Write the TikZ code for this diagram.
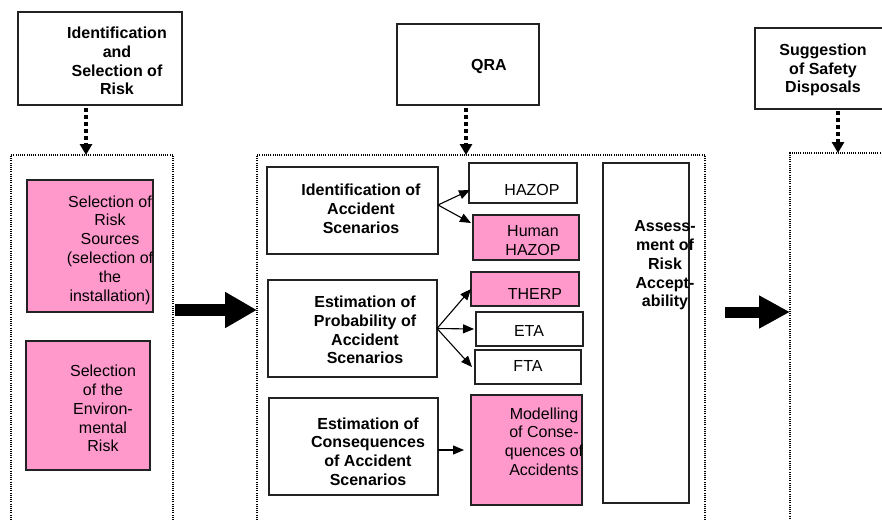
\documentclass[tikz,border=0pt]{standalone}
\usepackage{fontspec}
\setmainfont{Liberation Sans}
\usetikzlibrary{arrows.meta,calc}
\definecolor{boxpink}{HTML}{FF99CC}
\definecolor{boxline}{HTML}{222222}

\begin{document}
\begin{tikzpicture}[x=1pt, y=-1pt, line join=miter,
  box/.style={draw=boxline, line width=1.2pt, inner sep=0pt, outer sep=0pt},
  pinkbox/.style={box, fill=boxpink},
  pane/.style={draw=black, line width=1.2pt, dash pattern=on 1pt off 1.2pt, inner sep=0pt, outer sep=0pt},
  lbl/.style={align=center, inner sep=0pt, font=\fontsize{16}{18.8}\selectfont},
  blbl/.style={align=center, inner sep=0pt, font=\fontsize{16}{18.8}\selectfont\bfseries},
  dotarrow/.style={line width=3.2pt, dash pattern=on 4pt off 3pt, -{Triangle[width=12pt,length=11pt]}},
  thinarrow/.style={line width=1.1pt, -{Triangle[width=9pt,length=11pt]}},
  bigarrow/.style={line width=12pt, -{Triangle[width=34pt,length=32pt]}}]
  \useasboundingbox (0,0) rectangle (882,519);

  % the three columns
  \node[pane, minimum width=162pt, minimum height=500pt] (leftpane) at (92,405) {};
  \node[pane, minimum width=448pt, minimum height=500pt] (midpane) at (481,405) {};
  \node[pane, minimum width=210pt, minimum height=500pt] (rightpane) at (895,403) {};

  % headings
  \node[box, minimum width=164pt, minimum height=93pt] (topone) at (100,58.5) {};
  \node[blbl] at (117,61) {Identification\\and\\Selection of\\Risk};
  \node[box, minimum width=142pt, minimum height=81pt] (qrabox) at (468,64.5) {};
  \node[blbl] at (489,66) {QRA};
  \node[box, minimum width=155pt, minimum height=81pt] (topthree) at (832.5,68.5) {};
  \node[blbl] at (823,70) {Suggestion\\of Safety\\Disposals};

  % left column
  \node[pinkbox, minimum width=126pt, minimum height=132pt] (selrisk) at (90,246) {};
  \node[lbl] at (110,250) {Selection of\\Risk\\Sources\\(selection of\\the\\installation)};
  \node[pinkbox, minimum width=124pt, minimum height=129pt] (selenv) at (88,405.5) {};
  \node[lbl] at (103,408.5) {Selection\\of the\\Environ-\\mental\\Risk};

  % middle column
  \node[box, minimum width=171pt, minimum height=87pt] (ident) at (352.5,210.5) {};
  \node[blbl] at (361,209) {Identification of\\Accident\\Scenarios};
  \node[box, minimum width=108pt, minimum height=40pt] (hazop) at (523,183) {};
  \node[lbl] at (532,190) {HAZOP};
  \node[pinkbox, minimum width=106pt, minimum height=45pt] (human) at (526,237.5) {};
  \node[lbl] at (533,240.5) {Human\\HAZOP};

  \node[box, minimum width=169pt, minimum height=97pt] (estprob) at (352.5,328.5) {};
  \node[blbl] at (365,330) {Estimation of\\Probability of\\Accident\\Scenarios};
  \node[pinkbox, minimum width=108pt, minimum height=34pt] (therp) at (525,289) {};
  \node[lbl] at (535,294) {THERP};
  \node[box, minimum width=107pt, minimum height=34pt] (eta) at (529.5,329) {};
  \node[lbl] at (529,331) {ETA};
  \node[box, minimum width=106pt, minimum height=34pt] (fta) at (528,367) {};
  \node[lbl] at (528,366) {FTA};

  \node[box, minimum width=169pt, minimum height=97pt] (estcons) at (353.5,446.5) {};
  \node[blbl] at (368,451.5) {Estimation of\\Consequences\\of Accident\\Scenarios};
  \node[pinkbox, minimum width=111pt, minimum height=110pt] (model) at (526.5,450) {};
  \node[lbl] at (544,441.5) {Modelling\\of Conse-\\quences of\\Accidents};

  \node[box, minimum width=86pt, minimum height=340pt] (assess) at (646,333) {};
  \node[blbl] at (665,265.5) {Assess-\\ment of\\Risk\\Accept-\\ability};

  % connectors
  \draw[dotarrow] ([xshift=-14pt,yshift=-3pt]topone.south) -- ([xshift=-14pt]topone.south |- leftpane.north);
  \draw[dotarrow] ([xshift=-2pt,yshift=-3pt]qrabox.south) -- ([xshift=-2pt]qrabox.south |- midpane.north);
  \draw[dotarrow] ([xshift=5.5pt,yshift=-2pt]topthree.south) -- ([xshift=5.5pt]topthree.south |- rightpane.north);

  \draw[thinarrow] ([yshift=5.5pt]ident.east) -- ([xshift=1pt,yshift=-7pt]hazop.west);
  \draw[thinarrow] ([yshift=5.5pt]ident.east) -- ([xshift=-2pt,yshift=14.5pt]human.west);
  \draw[thinarrow] (estprob.east) -- (therp.west);
  \draw[thinarrow] (estprob.east) -- ([xshift=-2pt]eta.west);
  \draw[thinarrow] (estprob.east) -- ([xshift=-3pt]fta.west);
  \draw[thinarrow] (estcons.east |- model.west) -- ([xshift=-7pt]model.west);

  \coordinate (bigone) at (175,310);
  \draw[bigarrow] (bigone) -- (bigone -| midpane.west);
  \coordinate (bigtwo) at (725,312);
  \draw[bigarrow, line width=11pt, -{Triangle[width=31pt,length=31pt]}] (bigtwo) -- (bigtwo -| rightpane.west);
\end{tikzpicture}
\end{document}
